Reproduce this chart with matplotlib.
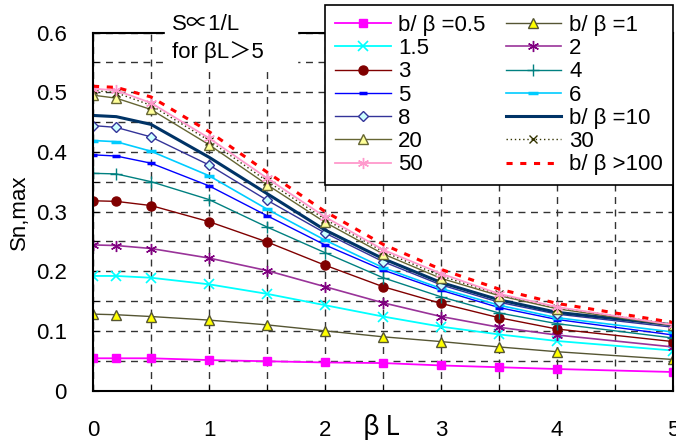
import numpy as np
import matplotlib
matplotlib.use("Agg")
from matplotlib import pyplot as plt

plt.rcParams['font.family'] = ['Liberation Sans', 'Noto Sans CJK JP', 'DejaVu Sans']

#%% data
bL = [0, 0.2, 0.5, 1, 1.5, 2, 2.5, 3, 3.5, 4, 5]

s_05 = [0.054, 0.054, 0.054, 0.051, 0.049, 0.047, 0.046, 0.042, 0.039, 0.036, 0.031]
s_1 = [0.128, 0.127, 0.124, 0.118, 0.110, 0.100, 0.090, 0.082, 0.073, 0.065, 0.052]
s_15 = [0.192, 0.192, 0.189, 0.178, 0.162, 0.143, 0.124, 0.107, 0.094, 0.083, 0.067]
s_2 = [0.244, 0.243, 0.238, 0.222, 0.201, 0.174, 0.147, 0.124, 0.106, 0.093, 0.073]
s_3 = [0.318, 0.317, 0.310, 0.283, 0.249, 0.210, 0.174, 0.146, 0.122, 0.103, 0.082]
s_4 = [0.364, 0.363, 0.350, 0.320, 0.274, 0.231, 0.189, 0.157, 0.130, 0.112, 0.088]
s_5 = [0.395, 0.393, 0.381, 0.343, 0.293, 0.244, 0.202, 0.168, 0.139, 0.119, 0.093]
s_6 = [0.419, 0.417, 0.401, 0.360, 0.304, 0.252, 0.206, 0.171, 0.143, 0.122, 0.098]
s_8 = [0.444, 0.441, 0.425, 0.378, 0.319, 0.264, 0.216, 0.177, 0.148, 0.128, 0.106]
s_10 = [0.461, 0.459, 0.446, 0.391, 0.330, 0.269, 0.221, 0.181, 0.152, 0.131, 0.110]
s_20 = [0.495, 0.490, 0.471, 0.412, 0.345, 0.282, 0.229, 0.188, 0.159, 0.137, 0.109]
s_30 = [0.503, 0.499, 0.478, 0.419, 0.351, 0.287, 0.233, 0.192, 0.161, 0.139, 0.111]
s_50 = [0.506, 0.503, 0.482, 0.423, 0.356, 0.291, 0.236, 0.196, 0.162, 0.140, 0.110]
s_100 = [0.510, 0.508, 0.492, 0.434, 0.366, 0.300, 0.245, 0.203, 0.170, 0.146, 0.114]

asterisk = (6, 2, 0)

#%%
fig = plt.figure(figsize=(6.76, 4.43), dpi=100)
ax = fig.add_axes([0.1376, 0.1185, 0.8580, 0.8081])

h = {}
h['0.5'], = ax.plot(bL, s_05, color='#FF00FF', lw=1.3, marker='s', ms=6, label='b/ β =0.5')
h['1'], = ax.plot(bL, s_1, color='#555533', lw=1, marker='^', ms=7, mfc='#FFFF00', mec='#555533', label='b/ β =1')
h['1.5'], = ax.plot(bL, s_15, color='#00FFFF', lw=1.3, marker='x', ms=7, mew=1.2, label='1.5')
h['2'], = ax.plot(bL, s_2, color='#993399', lw=1.2, marker=asterisk, ms=8, mec='#800080', label='2')
h['3'], = ax.plot(bL, s_3, color='#800000', lw=1, marker='o', ms=6.5, label='3')
h['4'], = ax.plot(bL, s_4, color='#008080', lw=1, marker='+', ms=8, label='4')
h['5'], = ax.plot(bL, s_5, color='#0000FF', lw=1, marker='_', ms=6, mew=2.5, label='5')
h['6'], = ax.plot(bL, s_6, color='#00CCFF', lw=1.2, marker='_', ms=7, mew=2.5, label='6')
h['8'], = ax.plot(bL, s_8, color='#333399', lw=1, marker='D', ms=5.5, mfc='#CCFFFF', mec='#333399', label='8')
h['10'], = ax.plot(bL, s_10, color='#003366', lw=2.2, label='b/ β =10')
h['20'], = ax.plot(bL, s_20, color='#666633', lw=1, marker='^', ms=7, mfc='#FFFF99', mec='#666633', label='20')
h['30'], = ax.plot(bL, s_30, color='#333300', lw=1, ls=(0, (1, 2)), marker='x', ms=6, label='30')
h['50'], = ax.plot(bL, s_50, color='#FF99CC', lw=1.3, marker=asterisk, ms=8, label='50')
h['100'], = ax.plot(bL, s_100, color='#FF0000', lw=2.2, ls=(0, (2, 2.5)), label='b/ β >100')

ax.set_xlim(0, 5)
ax.set_ylim(0, 0.6)
ax.set_xticks([0, 1, 2, 3, 4, 5])
ax.set_xticks(np.arange(0, 5.01, 0.5), minor=True)
ax.set_yticks([0, 0.1, 0.2, 0.3, 0.4, 0.5, 0.6])
ax.set_yticks(np.arange(0, 0.601, 0.05), minor=True)
ax.set_yticklabels(['0', '0.1', '0.2', '0.3', '0.4', '0.5', '0.6'])
ax.grid(True, which='both', color='#333333', ls=(0, (5, 4)), lw=1)
ax.tick_params(axis='both', which='both', direction='in', length=4, labelsize=16)
ax.tick_params(axis='x', pad=21)
ax.tick_params(axis='y', pad=19)
for s in ax.spines.values():
    s.set_linewidth(1.5)
    s.set_color('black')

fig.text(19 / 676, 1 - 212 / 443, 'Sn,max', fontsize=16, rotation=90, ha='center', va='center')
fig.text(381 / 676, 1 - 428 / 443, 'β L', fontsize=19, ha='center', va='center',
         family=['Noto Sans CJK JP', 'DejaVu Sans'])

fig.text(172 / 676, 1 - 25 / 443, 'S∝1/L', fontsize=16, ha='left', va='center')
fig.text(172 / 676, 1 - 52 / 443, 'for βL＞5', fontsize=16, ha='left', va='center')
fig.patches.append(plt.Rectangle((165 / 676, 1 - 68 / 443), 132 / 676, 60 / 443,
                                 transform=fig.transFigure, color='white', zorder=2))
for t in fig.texts:
    t.set_zorder(3)

order = ['0.5', '1.5', '3', '5', '8', '20', '50', '1', '2', '4', '6', '10', '30', '100']
leg = fig.legend([h[k] for k in order], [h[k].get_label() for k in order],
                 loc='upper left', bbox_to_anchor=(325 / 676, 1 - 5 / 443), ncol=2,
                 fontsize=16, frameon=True, fancybox=False, edgecolor='black',
                 framealpha=1, handlelength=2.5, handletextpad=0.35, columnspacing=0.9,
                 labelspacing=0.1, borderpad=0.45, borderaxespad=0)
leg.get_frame().set_linewidth(1.2)

plt.savefig('out.png', dpi=100)
